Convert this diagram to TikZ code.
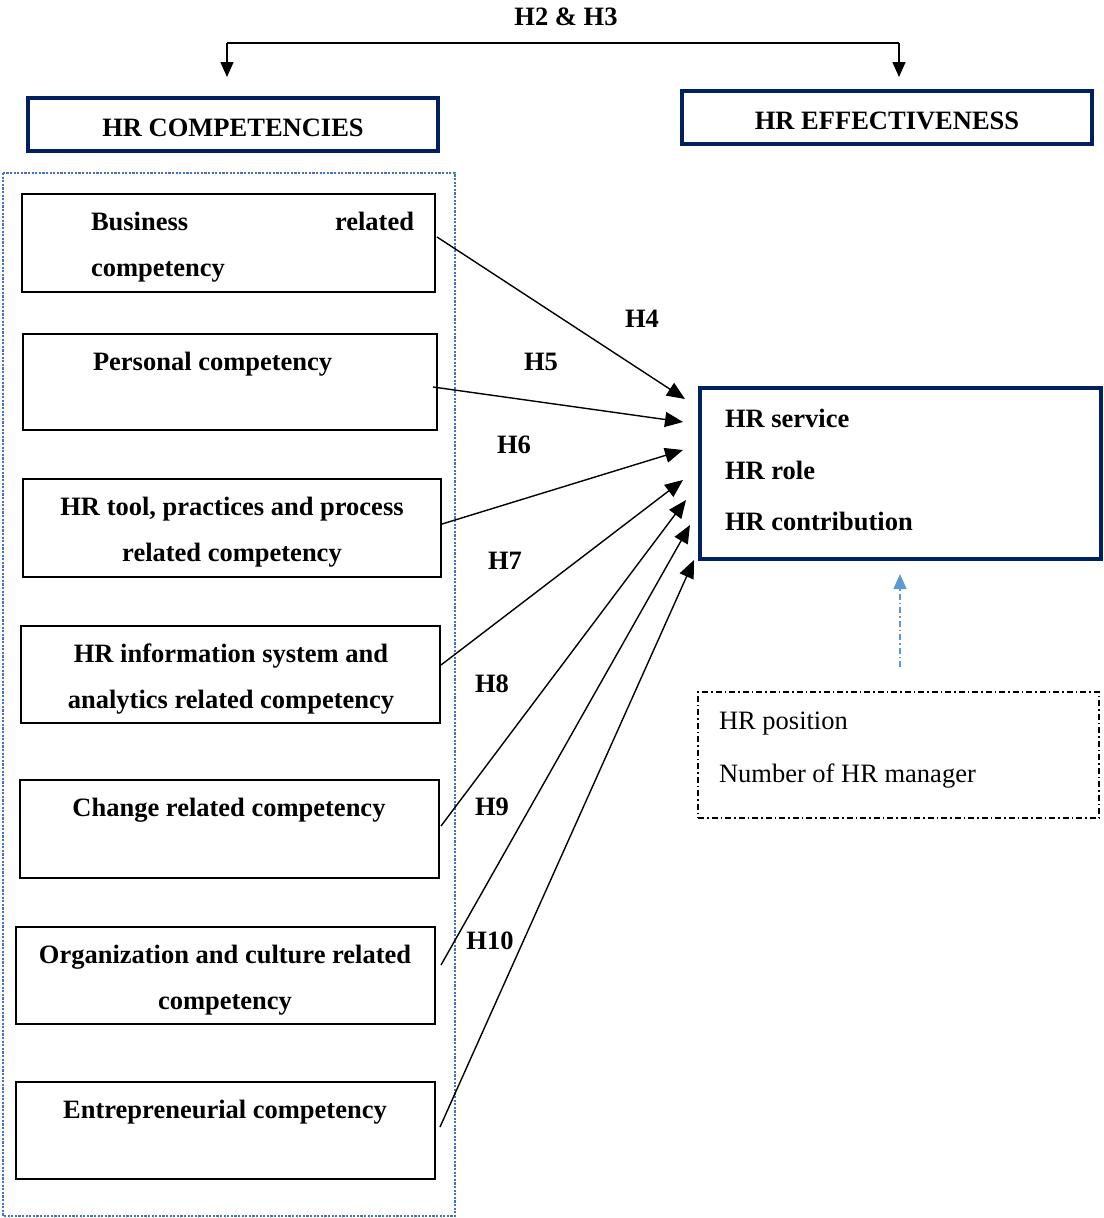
\documentclass[tikz,border=0pt]{standalone}
\usepackage{fontspec}
\setmainfont{Liberation Serif}
\usetikzlibrary{arrows.meta}
\definecolor{navy}{RGB}{0,32,96}
\definecolor{dotblue}{RGB}{68,114,196}
\definecolor{lightblue}{RGB}{91,155,213}
\tikzset{
  every node/.style={inner sep=0pt, outer sep=0pt},
  txt/.style={font=\fontsize{26.5}{46}\selectfont\bfseries},
  plaintxt/.style={font=\fontsize{26.5}{46}\selectfont},
  compbox/.style={draw=black, line width=1.5pt, rectangle},
  headbox/.style={draw=navy, line width=4pt, rectangle},
  link/.style={draw=black, line width=1.4pt, -{Triangle[length=18pt,width=15pt]}},
  toplink/.style={draw=black, line width=1.4pt, -{Triangle[length=15pt,width=13pt]}},
}
\begin{document}
\begin{tikzpicture}[x=1pt, y=-1pt]
\useasboundingbox (0,0) rectangle (1103,1218);

% --- top hypotheses bracket ---
\node[txt, anchor=base] (h23) at (566,25) {H2 \& H3};
\coordinate (tl) at (227,43);
\coordinate (tr) at (899,43);
\coordinate (tla) at (227,77);
\coordinate (tra) at (899,77);
\draw[line width=1.4pt] (tl) -- (tr);
\draw[toplink] (tl) -- (tla);
\draw[toplink] (tr) -- (tra);

% --- header boxes ---
\node[headbox, minimum width=410, minimum height=53, anchor=north west] (hc) at (28,98) {};
\node[txt, anchor=base] (hctxt) at (233,136) {HR COMPETENCIES};
\node[headbox, minimum width=410, minimum height=53, anchor=north west] (he) at (682,91) {};
\node[txt, anchor=base] (hetxt) at (887,129) {HR EFFECTIVENESS};

% --- dotted group around the competencies ---
\draw[dotblue, line width=2.8pt, dash pattern=on 2.2pt off 1.4pt] (3,173) rectangle (455,1216);

% --- competency boxes ---
\node[compbox, minimum width=413, minimum height=98, anchor=north west] (biz) at (22,194) {};
\node[txt, anchor=base west, text width=323] (biztxt) at (91,230) {Business\hfill related};
\node[txt, anchor=base west] (biztxtb) at (91,276) {competency};

\node[compbox, minimum width=414, minimum height=96, anchor=north west] (pers) at (23,334) {};
\node[txt, anchor=base west] (perstxt) at (93,370) {Personal competency};

\node[compbox, minimum width=418, minimum height=98, anchor=north west] (tool) at (23,479) {};
\node[txt, anchor=base] (tooltxt) at (232,515) {HR tool, practices and process};
\node[txt, anchor=base] (tooltxtb) at (232,561) {related competency};

\node[compbox, minimum width=419, minimum height=97, anchor=north west] (info) at (21,626) {};
\node[txt, anchor=base] (infotxt) at (231,662) {HR information system and};
\node[txt, anchor=base] (infotxtb) at (231,708) {analytics related competency};

\node[compbox, minimum width=419, minimum height=98, anchor=north west] (chg) at (20,780) {};
\node[txt, anchor=base] (chgtxt) at (229,816) {Change related competency};

\node[compbox, minimum width=419, minimum height=97, anchor=north west] (org) at (16,927) {};
\node[txt, anchor=base] (orgtxt) at (225,963) {Organization and culture related};
\node[txt, anchor=base] (orgtxtb) at (225,1009) {competency};

\node[compbox, minimum width=419, minimum height=97, anchor=north west] (ent) at (16,1082) {};
\node[txt, anchor=base] (enttxt) at (225,1118) {Entrepreneurial competency};

% --- outcome box ---
\node[headbox, minimum width=401, minimum height=171, anchor=north west] (out) at (700,388) {};
\node[txt, anchor=base west] (o1) at (725,427) {HR service};
\node[txt, anchor=base west] (o2) at (725,479) {HR role};
\node[txt, anchor=base west] (o3) at (725,530) {HR contribution};

% --- control variables ---
\node[draw=black, line width=1.3pt, dash pattern=on 6pt off 3pt on 1.5pt off 3pt,
      minimum width=401, minimum height=126, anchor=north west] (ctrl) at (698,692) {};
\node[plaintxt, anchor=base west] (c1) at (719,729) {HR position};
\node[plaintxt, anchor=base west] (c2) at (719,782) {Number of HR manager};
\coordinate (cs) at (900,667);
\coordinate (ce) at (900,574);
\draw[lightblue, line width=1.2pt, dash pattern=on 6pt off 3pt on 1.5pt off 3pt,
      -{Triangle[length=15pt,width=13pt]}] (cs) -- (ce);

% --- hypothesis arrows ---
\coordinate (s4) at (437,237);  \coordinate (t4) at (685,399);
\coordinate (s5) at (433,387);  \coordinate (t5) at (683,422);
\coordinate (s6) at (442,524);  \coordinate (t6) at (683,450);
\coordinate (s7) at (441,665);  \coordinate (t7) at (683,480);
\coordinate (s8) at (441,826);  \coordinate (t8) at (686,500);
\coordinate (s9) at (441,965);  \coordinate (t9) at (690,525);
\coordinate (s10) at (440,1127); \coordinate (t10) at (694,560);
\draw[link] (s4) -- (t4);
\draw[link] (s5) -- (t5);
\draw[link] (s6) -- (t6);
\draw[link] (s7) -- (t7);
\draw[link] (s8) -- (t8);
\draw[link] (s9) -- (t9);
\draw[link] (s10) -- (t10);

% --- hypothesis labels ---
\node[txt, anchor=base] (l4) at (642,327) {H4};
\node[txt, anchor=base] (l5) at (541,370) {H5};
\node[txt, anchor=base] (l6) at (514,453) {H6};
\node[txt, anchor=base] (l7) at (505,569) {H7};
\node[txt, anchor=base] (l8) at (492,692) {H8};
\node[txt, anchor=base] (l9) at (492,815) {H9};
\node[txt, anchor=base] (l10) at (490,949) {H10};
\end{tikzpicture}
\end{document}
